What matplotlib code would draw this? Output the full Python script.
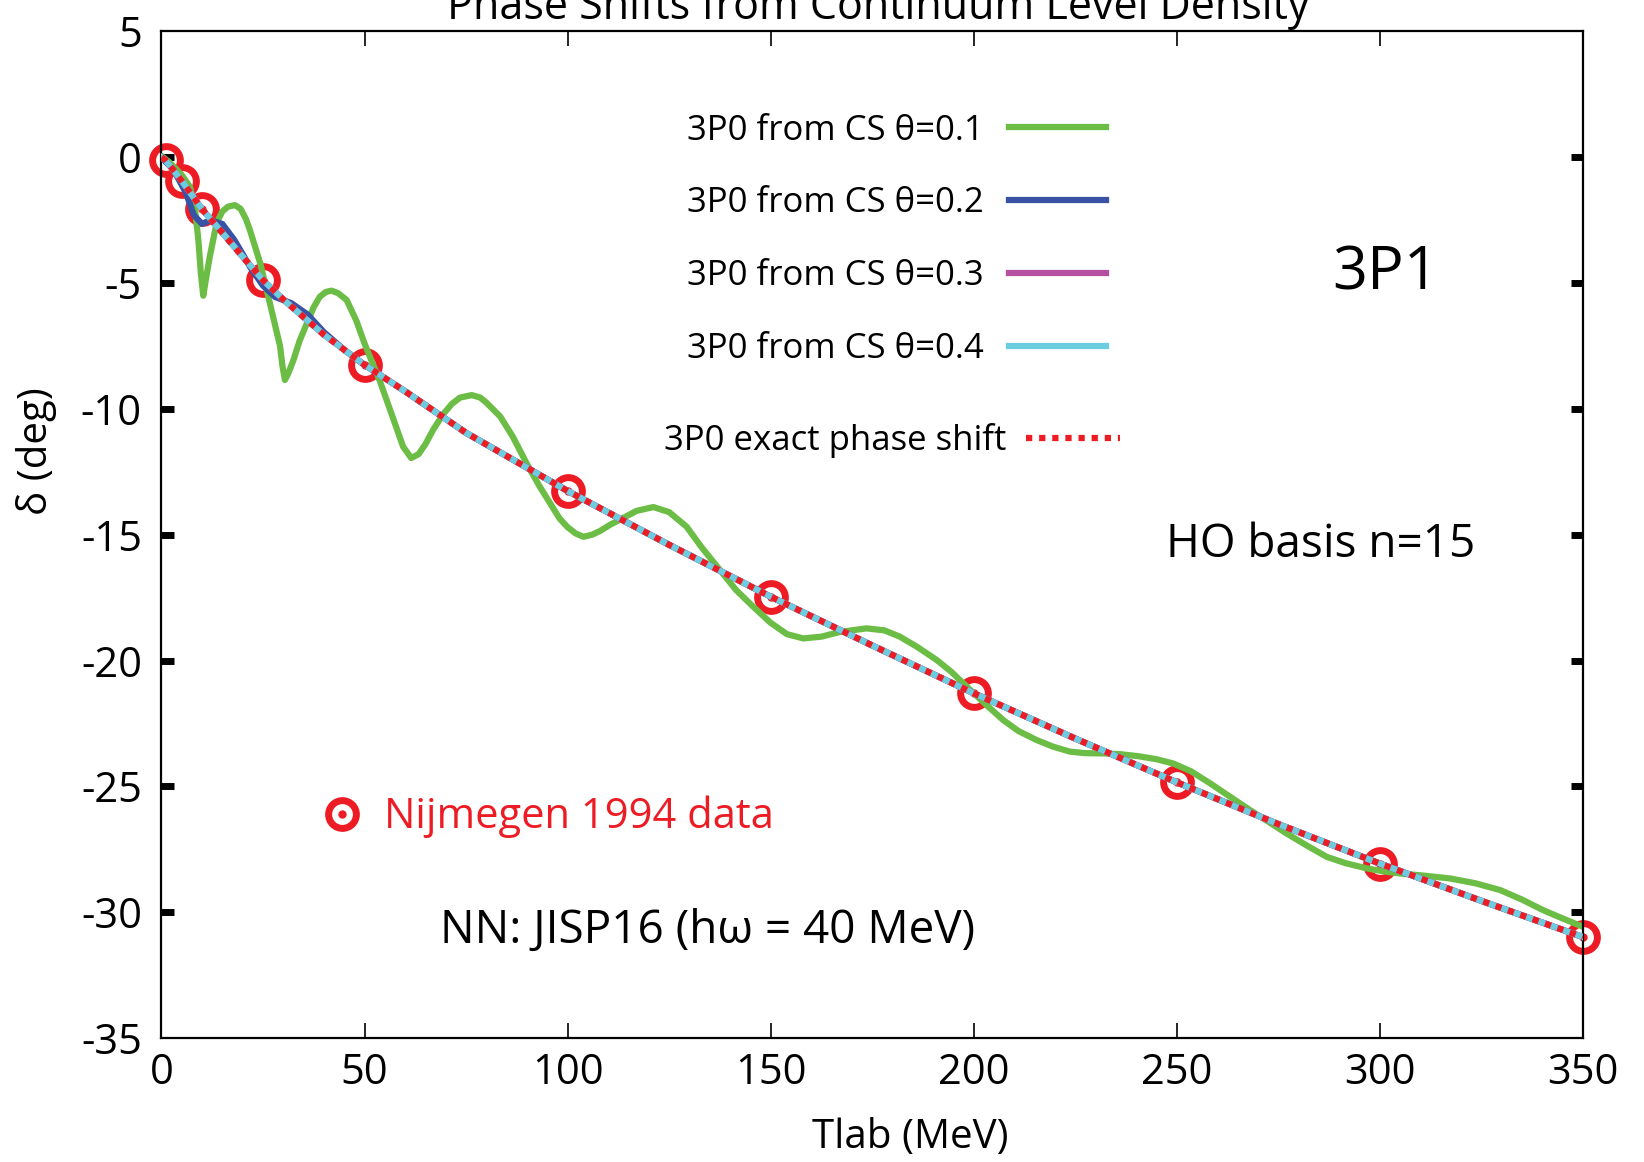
import matplotlib
matplotlib.use("Agg")
import matplotlib.pyplot as plt
from matplotlib.legend_handler import HandlerTuple

plt.rcParams['font.family'] = ['Open Sans', 'DejaVu Sans']
plt.rcParams['axes.unicode_minus'] = False

# Nijmegen 1994 data
tlabData = [1, 5, 10, 25, 50, 100, 150, 200, 250, 300, 350]
deltaData = [-0.11, -0.94, -2.06, -4.88, -8.25, -13.26, -17.46, -21.30, -24.84, -28.07, -30.99]

# exact phase shift
tlabExact = [0, 1, 5, 10, 15, 20, 25, 30, 40, 50, 60, 75, 100, 125, 150, 175, 200, 225, 250, 275, 300, 325, 350]
deltaExact = [0, -0.11, -0.94, -2.06, -3.0, -3.95, -4.88, -5.65, -7.05, -8.25, -9.3, -10.95, -13.26,
              -15.4, -17.46, -19.4, -21.3, -23.1, -24.84, -26.5, -28.07, -29.55, -30.99]

# CS theta=0.1
tlab01 = [0, 2, 5, 7, 8.2, 9.1, 9.7, 10.3, 10.9, 11.9, 13.6, 15, 16.4, 18.1, 19.5, 20.8, 21.8, 24.3, 26.7,
          29.2, 29.8, 30.4, 31.2, 32.5, 34, 35.8, 37.5, 39, 40.5, 41.9, 43.5, 45.6, 48, 50, 53.8, 57.1,
          59.5, 61.5, 63.3, 65, 67, 69.4, 71.5, 73.5, 76.4, 78.5, 80, 83.4, 86.5, 89.9, 93, 95.7, 98, 100,
          102, 103.9, 106, 108, 110.5, 112.9, 117, 121.1, 125, 129.3, 133, 137.5, 141.5, 145.7, 150, 154,
          158, 162.5, 167.1, 173.6, 178, 181.8, 186, 190.9, 194.5, 198.3, 203, 207.3, 211, 215.5, 219.5,
          223.7, 227.5, 231.9, 236, 240.5, 245, 249.1, 253.5, 258.2, 263, 268, 272.5, 277, 282, 286.9,
          291.5, 296.8, 301, 305, 311, 317.3, 323.5, 329.6, 335, 340.2, 345, 350]
delta01 = [0.05, -0.2, -0.7, -1.17, -1.96, -3.3, -4.6, -5.5, -4.9, -3.95, -2.6, -2.15, -1.96, -1.9, -2.05,
           -2.45, -2.9, -4.2, -5.8, -7.5, -8.3, -8.85, -8.6, -8.06, -7.3, -6.6, -5.95, -5.54, -5.35, -5.3,
           -5.4, -5.67, -6.5, -7.4, -8.9, -10.4, -11.5, -11.95, -11.8, -11.4, -10.8, -10.2, -9.8, -9.55,
           -9.45, -9.55, -9.75, -10.3, -11.1, -12.16, -13.05, -13.75, -14.35, -14.7, -14.95, -15.08, -15.0,
           -14.85, -14.6, -14.4, -14.05, -13.9, -14.1, -14.68, -15.5, -16.4, -17.2, -17.86, -18.5, -18.95,
           -19.12, -19.05, -18.86, -18.72, -18.8, -19.05, -19.45, -19.98, -20.45, -21.04, -21.75, -22.37,
           -22.8, -23.16, -23.42, -23.62, -23.68, -23.69, -23.72, -23.8, -23.92, -24.09, -24.4, -24.88,
           -25.4, -25.94, -26.4, -26.87, -27.35, -27.8, -28.05, -28.26, -28.38, -28.46, -28.55, -28.66,
           -28.85, -29.12, -29.5, -29.92, -30.25, -30.58]

# CS theta=0.2
tlab02 = [0, 3, 6, 8, 10, 12, 15, 18, 22, 25, 28, 32, 36, 40, 45, 50, 60, 75, 100, 125, 150, 175, 200,
          225, 250, 275, 300, 325, 350]
delta02 = [0, -0.5, -1.4, -2.3, -2.65, -2.5, -2.65, -3.3, -4.4, -5.1, -5.55, -5.8, -6.25, -6.95, -7.65,
           -8.25, -9.3, -10.95, -13.26, -15.4, -17.46, -19.4, -21.3, -23.1, -24.84, -26.5, -28.07, -29.55,
           -30.99]

# CS theta=0.3 and 0.4
tlab03 = [0, 1, 5, 10, 15, 20, 25, 30, 40, 50, 60, 75, 100, 125, 150, 175, 200, 225, 250, 275, 300, 325, 350]
delta03 = [0, -0.11, -0.94, -2.06, -3.0, -3.95, -4.88, -5.65, -7.05, -8.25, -9.3, -10.95, -13.26,
           -15.4, -17.46, -19.4, -21.3, -23.1, -24.84, -26.5, -28.07, -29.55, -30.99]
tlab04 = [0, 1, 5, 10, 15, 20, 25, 30, 40, 50, 60, 75, 100, 125, 150, 175, 200, 225, 250, 275, 300, 325, 350]
delta04 = [0, -0.11, -0.94, -2.06, -3.0, -3.95, -4.88, -5.65, -7.05, -8.25, -9.3, -10.95, -13.26,
           -15.4, -17.46, -19.4, -21.3, -23.1, -24.84, -26.5, -28.07, -29.55, -30.99]

green = '#6cbd45'
blue = '#3953a4'
magenta = '#b4509f'
cyan = '#6ccde0'
red = '#ed1c24'

fig = plt.figure(figsize=(16.44, 11.62), dpi=100)
ax = fig.add_axes([0.0982, 0.1067, 0.8647, 0.8662])

circ, = ax.plot(tlabData, deltaData, 'o', ms=20, mfc='none', mec=red, mew=5, zorder=1, clip_on=False)
dot, = ax.plot(tlabData, deltaData, 'o', ms=5, color=red, zorder=1, clip_on=False)

l1, = ax.plot(tlab01, delta01, color=green, lw=4.5, label='3P0 from CS \u03b8=0.1', zorder=2)
l2, = ax.plot(tlab02, delta02, color=blue, lw=4.5, label='3P0 from CS \u03b8=0.2', zorder=3)
l3, = ax.plot(tlab03, delta03, color=magenta, lw=4.5, label='3P0 from CS \u03b8=0.3', zorder=4)
l4, = ax.plot(tlab04, delta04, color=cyan, lw=4.5, label='3P0 from CS \u03b8=0.4', zorder=5)
le, = ax.plot(tlabExact, deltaExact, color=red, lw=4.5, ls=(0, (1, 1.1)), label='3P0 exact phase shift', zorder=6)

ax.set_xlim(0, 350)
ax.set_ylim(-35, 5)
ax.set_xticks(range(0, 351, 50))
ax.set_yticks(range(-35, 6, 5))
ax.tick_params(axis='x', direction='in', top=True, length=11, width=1.2, labelsize=30, pad=10)
ax.tick_params(axis='y', direction='in', right=True, length=9, width=5, labelsize=30, pad=14)
for t in (ax.yaxis.get_major_ticks()[0], ax.yaxis.get_major_ticks()[-1]):
    t.tick1line.set_visible(False)
    t.tick2line.set_visible(False)
for s in ax.spines.values():
    s.set_linewidth(1.6)

ax.set_xlabel('Tlab (MeV)', fontsize=29)
ax.xaxis.label.set_verticalalignment('center')
ax.xaxis.set_label_coords(0.5266, -0.0994)
ax.set_ylabel('\u03b4 (deg)', fontsize=29)
ax.yaxis.label.set_verticalalignment('center')
ax.yaxis.set_label_coords(-0.0876, 0.583)
ax.text(0.504, 1.0124, 'Phase Shifts from Continuum Level Density', transform=ax.transAxes,
        ha='center', va='baseline', fontsize=31)

leg1 = ax.legend(handles=[l1, l2, l3, l4], loc='upper right', bbox_to_anchor=(0.6645, 0.9185),
                 frameon=False, markerfirst=False, fontsize=25, handlelength=2.8,
                 handletextpad=0.72, labelspacing=1.12, borderpad=0, borderaxespad=0)
ax.add_artist(leg1)
leg2 = ax.legend(handles=[le], loc='center right', bbox_to_anchor=(0.6743, 0.5935),
                 frameon=False, markerfirst=False, fontsize=25, handlelength=2.7,
                 handletextpad=0.58, borderpad=0, borderaxespad=0)
ax.add_artist(leg2)
ax.legend(handles=[(circ, dot)], labels=['Nijmegen 1994 data'], handler_map={tuple: HandlerTuple(ndivide=1)},
          loc='center left', bbox_to_anchor=(0.1126, 0.2196), frameon=False, fontsize=30,
          labelcolor=red, handlelength=1.0, handletextpad=0.5, borderpad=0, borderaxespad=0)

ax.text(0.8234, 0.760, '3P1', transform=ax.transAxes, ha='left', va='center', fontsize=44)
ax.text(0.7066, 0.4898, 'HO basis n=15', transform=ax.transAxes, ha='left', va='center', fontsize=33)
ax.text(0.1959, 0.1063, 'NN: JISP16 (h\u03c9 = 40 MeV)', transform=ax.transAxes, ha='left', va='center', fontsize=33)

fig.savefig('out.png', dpi=100)
